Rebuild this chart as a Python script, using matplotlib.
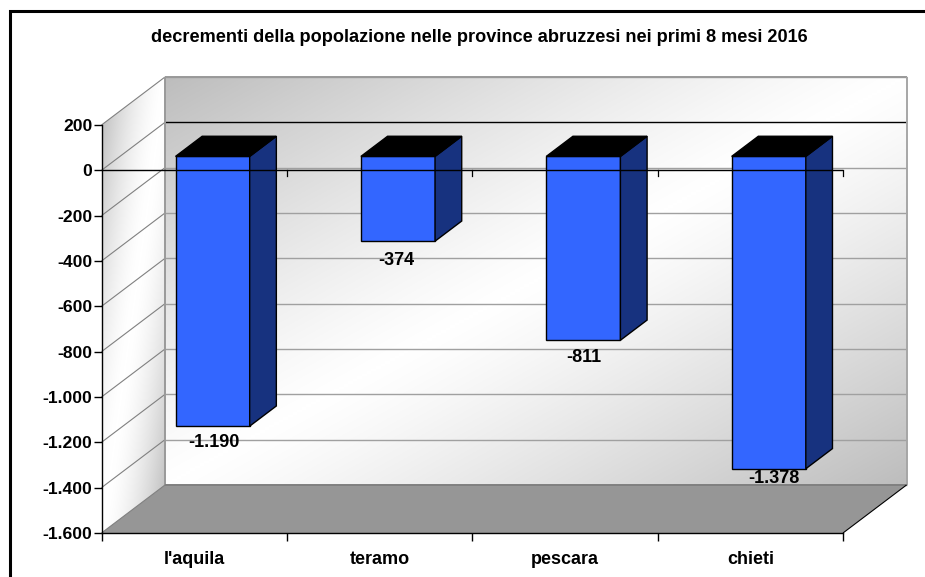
import numpy as np
import matplotlib
matplotlib.use('Agg')
import matplotlib.pyplot as plt
from matplotlib.patches import Polygon
from matplotlib.colors import LinearSegmentedColormap
from matplotlib.ticker import FuncFormatter

plt.rcParams['font.family'] = ['Liberation Sans', 'DejaVu Sans']
plt.rcParams['font.weight'] = 'bold'

title = 'decrementi della popolazione nelle province abruzzesi nei primi 8 mesi 2016'
categories = ["l'aquila", 'teramo', 'pescara', 'chieti']
values = [-1190, -374, -811, -1378]
yticks = [200, 0, -200, -400, -600, -800, -1000, -1200, -1400, -1600]

W, H = 925, 577
# front plane of the 3d box, in pixels
left, right, top, bottom = 101.5, 843, 125, 533
# how far the back wall is pushed, in data units
depth_x = 63.5 / ((right - left) / 4)
depth_y = 48 / ((bottom - top) / 1800)


def proj(x, v, d=0.0):
    return (x + d * depth_x, v + d * depth_y)


def quad(ax, pts, **kw):
    p = Polygon([proj(*q) for q in pts], closed=True, clip_on=False, **kw)
    ax.add_patch(p)
    return p


def line3(ax, a, b, **kw):
    pa, pb = proj(*a), proj(*b)
    ax.plot([pa[0], pb[0]], [pa[1], pb[1]], clip_on=False, solid_capstyle='butt', **kw)


def gradient(ax, pts, grid, cmap, z):
    # image stretched over the bounding box, clipped to the polygon
    xy = np.array([proj(*q) for q in pts])
    im = ax.imshow(grid, extent=(xy[:, 0].min(), xy[:, 0].max(), xy[:, 1].min(), xy[:, 1].max()),
                   origin='lower', cmap=cmap, vmin=0, vmax=1, aspect='auto',
                   interpolation='bilinear', zorder=z)
    clip = Polygon(xy, closed=True, transform=ax.transData, fill=False, edgecolor='none')
    ax.add_patch(clip)
    im.set_clip_path(clip)
    im.set_clip_box(fig.bbox)


fig = plt.figure(figsize=(W / 100, H / 100), dpi=100)
# frame: only the left and top edges fall inside the picture
fig.patches.append(plt.Rectangle((10 / W, -0.1), 2, 1.1 - 11 / H, transform=fig.transFigure, fill=False,
                                 edgecolor='black', linewidth=2.2))
ax = fig.add_axes([left / W, 1 - bottom / H, (right - left) / W, (bottom - top) / H])
ax.set_xlim(0, 4)
ax.set_ylim(-1600, 200)
ax.patch.set_visible(False)

# walls
wall_cmap = LinearSegmentedColormap.from_list('wall', ['#ffffff', '#bdbdbd'])
u, v = np.meshgrid(np.linspace(0, 1, 160), np.linspace(0, 1, 160))
back_grid = np.abs(u - v) ** 1.2  # light along the other diagonal
gradient(ax, [(0, -1600, 1), (4, -1600, 1), (4, 200, 1), (0, 200, 1)], back_grid, wall_cmap, 0.5)

side_grid = np.clip(np.abs(u - v) ** 1.6 * 1.1, 0, 1)
gradient(ax, [(0, -1600, 0), (0, -1600, 1), (0, 200, 1), (0, 200, 0)], side_grid, wall_cmap, 0.5)

quad(ax, [(0, -1600, 0), (4, -1600, 0), (4, -1600, 1), (0, -1600, 1)],
     facecolor='#969696', edgecolor='none', zorder=1)

# gridlines on side and back walls
for t in yticks:
    if t != -1600:
        line3(ax, (0, t, 0), (0, t, 1), color='#808080', linewidth=0.8, zorder=1.5)
    if t == 0:
        line3(ax, (0, t, 1), (4, t, 1), color='black', linewidth=1.0, zorder=1.5)
    else:
        line3(ax, (0, t, 1), (4, t, 1), color='#a0a0a0', linewidth=1.0, zorder=1.5)

# wall outlines
line3(ax, (0, 200, 1), (4, 200, 1), color='#999999', linewidth=1.4, zorder=1.6)
line3(ax, (0, 200, 1), (0, -1600, 1), color='#999999', linewidth=1.4, zorder=1.6)
line3(ax, (4, 200, 1), (4, -1600, 1), color='#a6a6a6', linewidth=1.4, zorder=1.6)
line3(ax, (0, -1600, 1), (4, -1600, 1), color='#808080', linewidth=1.4, zorder=1.6)
line3(ax, (0, -1600, 0), (0, -1600, 1), color='#808080', linewidth=0.8, zorder=1.6)
line3(ax, (4, -1600, 0), (4, -1600, 1), color='black', linewidth=0.8, zorder=1.6)

# bars hang from zero, sitting in the middle of the depth
d0, d1 = 0.29, 0.71
bar_w = 0.4
# labels are not placed evenly in the original: nudge each one (pixels)
label_dx = [1, -2, 0, 5]
label_dy = [16, 19, 17, 10]
for i, val in enumerate(values):
    x0 = i + 0.5 - bar_w / 2
    x1 = x0 + bar_w
    edge = dict(edgecolor='black', linewidth=1.0, zorder=3, joinstyle='miter')
    quad(ax, [(x0, 0, d0), (x1, 0, d0), (x1, val, d0), (x0, val, d0)], facecolor='#3366ff', **edge)
    quad(ax, [(x1, 0, d0), (x1, 0, d1), (x1, val, d1), (x1, val, d0)], facecolor='#17327f', **edge)
    quad(ax, [(x0, 0, d0), (x1, 0, d0), (x1, 0, d1), (x0, 0, d1)], facecolor='black', **edge)
    lx, ly = proj(i + 0.5, val, d0)
    ax.annotate(f'{val:,}'.replace(',', '.'), (lx, ly), xytext=(label_dx[i], -label_dy[i]),
                textcoords='offset pixels', ha='center', va='center', fontsize=13, fontweight='bold',
                annotation_clip=False, zorder=4, color='black')

# zero line in front, with its small ticks
ax.axhline(0, color='black', linewidth=1.0, zorder=3.5)
for i in range(1, 5):
    ax.plot([i, i], [0, -24], color='black', linewidth=0.9, clip_on=False, zorder=1.7)

for side in ['top', 'right']:
    ax.spines[side].set_visible(False)
ax.spines['left'].set_linewidth(1.0)
ax.spines['bottom'].set_linewidth(1.0)
ax.spines['left'].set_zorder(2)
ax.spines['bottom'].set_zorder(2)

ax.set_yticks(yticks)
ax.yaxis.set_major_formatter(FuncFormatter(lambda v, _: f'{int(v):,}'.replace(',', '.')))
ax.set_xticks(range(5))
ax.set_xticklabels([])
ax.set_xticks(np.arange(4) + 0.5, labels=categories, minor=True)
ax.tick_params(axis='both', which='major', length=5.5, width=1.0, labelsize=12.6)
ax.tick_params(axis='x', which='minor', length=0, labelsize=13, pad=13)
ax.tick_params(axis='y', pad=1)
for lab in ax.get_yticklabels() + ax.get_xticklabels(minor=True):
    lab.set_fontweight('bold')
    lab.set_color('black')

fig.text(479.5 / W, 1 - 38 / H, title, ha='center', va='center', fontsize=13.1, fontweight='bold', color='black')

fig.savefig('out.png', dpi=100)
